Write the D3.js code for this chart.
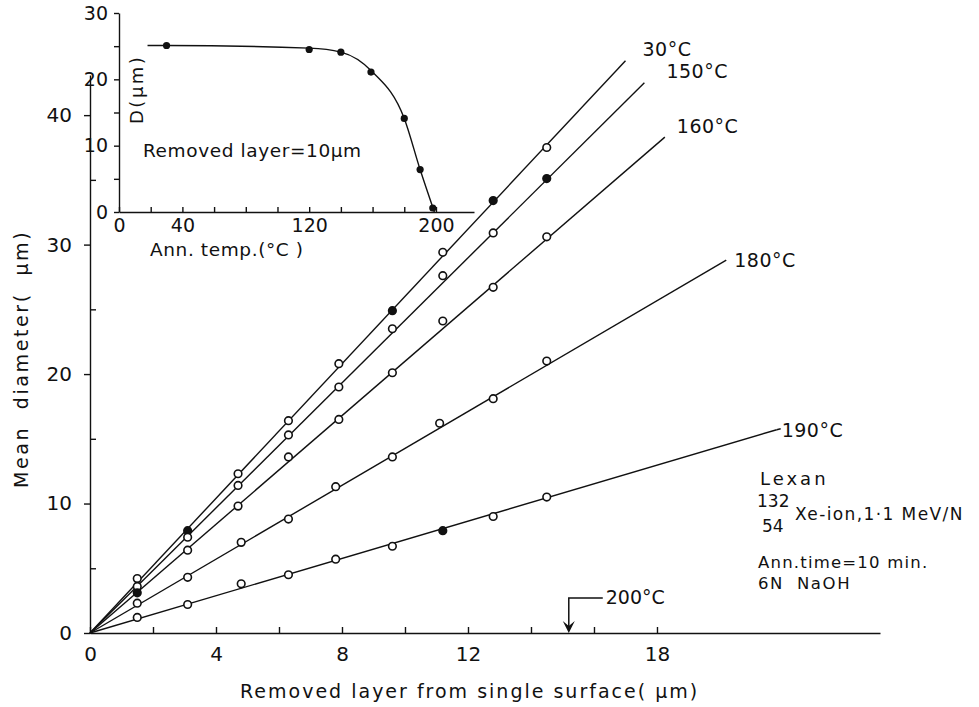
<!DOCTYPE html>
<html><head><meta charset="utf-8">
<script src="https://cdn.jsdelivr.net/npm/d3@7"></script>
<style>
body{margin:0;background:#fff;}
svg{display:block;font-family:"DejaVu Sans",sans-serif;fill:#111;}
</style></head>
<body><svg id="chart" width="979" height="707"></svg>
<script>
// Mean etched-track diameter against the layer removed, one series per annealing temperature
const seriesNames = ["30°C", "150°C", "160°C", "180°C", "190°C"];

const layer30  = [1.5, 3.1, 4.7, 6.3, 7.9, 9.6, 11.2, 12.8, 14.5];
const diam30   = [4.2, 7.9, 12.3, 16.4, 20.8, 24.9, 29.4, 33.4, 37.5];
const solid30  = [0, 1, 0, 0, 0, 1, 0, 1, 0];

const layer150 = [1.5, 3.1, 4.7, 6.3, 7.9, 9.6, 11.2, 12.8, 14.5];
const diam150  = [3.6, 7.4, 11.4, 15.3, 19.0, 23.5, 27.6, 30.9, 35.1];
const solid150 = [0, 0, 0, 0, 0, 0, 0, 0, 1];

const layer160 = [1.5, 3.1, 4.7, 6.3, 7.9, 9.6, 11.2, 12.8, 14.5];
const diam160  = [3.1, 6.4, 9.8, 13.6, 16.5, 20.1, 24.1, 26.7, 30.6];
const solid160 = [1, 0, 0, 0, 0, 0, 0, 0, 0];

const layer180 = [1.5, 3.1, 4.8, 6.3, 7.8, 9.6, 11.1, 12.8, 14.5];
const diam180  = [2.3, 4.3, 7.0, 8.8, 11.3, 13.6, 16.2, 18.1, 21.0];
const solid180 = [0, 0, 0, 0, 0, 0, 0, 0, 0];

const layer190 = [1.5, 3.1, 4.8, 6.3, 7.8, 9.6, 11.2, 12.8, 14.5];
const diam190  = [1.2, 2.2, 3.8, 4.5, 5.7, 6.7, 7.9, 9.0, 10.5];
const solid190 = [0, 0, 0, 0, 0, 0, 1, 0, 0];

// far end of each fitted line through the origin
const fitEndLayer = [17.0, 17.6, 18.25, 20.2, 21.8];
const fitEndDiam  = [44.2, 42.5, 38.3, 28.8, 15.7];

// main axes
const xTickValues = [0, 2, 4, 6, 8, 10, 12, 14, 16, 18];
const xTickLabels = [0, 4, 8, 12, 18];
const yMajorTicks = [0, 10, 20, 30, 40];
const yMinorTicks = [5, 15, 25, 35];

// layer at which the 200°C tracks vanish
const vanishLayer = 15.2;

// inset: diameter at 10 µm removed layer vs annealing temperature
const annTemp = [30, 120, 140, 159, 180, 190, 198];
const annDiam = [25.1, 24.5, 24.1, 21.1, 14.1, 6.4, 0.6];
const annCurveTemp = [18, 30, 120, 140, 160, 180, 190, 199];
const annCurveDiam = [25.1, 25.1, 24.7, 24.1, 21.1, 14.1, 6.4, 0];
const insetXTicks = [0, 20, 40, 60, 80, 100, 120, 140, 160, 180, 200];
const insetXLabels = [0, 40, 120, 200];
const insetYTicks = [0, 5, 10, 15, 20, 25, 30];
const insetYLabels = [0, 10, 20, 30];

const series = [
  {name: seriesNames[0], x: layer30,  y: diam30,  solid: solid30},
  {name: seriesNames[1], x: layer150, y: diam150, solid: solid150},
  {name: seriesNames[2], x: layer160, y: diam160, solid: solid160},
  {name: seriesNames[3], x: layer180, y: diam180, solid: solid180},
  {name: seriesNames[4], x: layer190, y: diam190, solid: solid190}
];
// label offsets from the end of each line (px)
const labelOffsets = [[17, -5], [22, -5], [12, -4], [8, 7], [5, 7]];

const svg = d3.select("#chart");
const ink = "#111";
const fs = 20;

const x = d3.scaleLinear().domain([0, 25.08]).range([90, 880]);
const y = d3.scaleLinear().domain([0, 43.1]).range([633, 75]);

// x axis, ticks pointing inward
const gx = svg.append("g").attr("transform", `translate(0,${y(0)})`)
  .call(d3.axisBottom(x).tickValues(xTickValues).tickSizeInner(-6).tickSizeOuter(0)
    .tickPadding(14).tickFormat(d => xTickLabels.includes(d) ? d : ""));
// y axis: labelled ticks outside, intermediate ticks inside
const gy = svg.append("g").attr("transform", `translate(${x(0)},0)`)
  .call(d3.axisLeft(y).tickValues(yMajorTicks).tickSizeInner(6).tickSizeOuter(0).tickPadding(12));
const gy2 = svg.append("g").attr("transform", `translate(${x(0)},0)`)
  .call(d3.axisLeft(y).tickValues(yMinorTicks).tickSizeInner(-6).tickSizeOuter(0).tickFormat(""));
[gx, gy, gy2].forEach(g => {
  g.selectAll("path,line").attr("stroke", ink).attr("stroke-width", 1.4);
  g.selectAll("text").attr("font-size", fs).attr("fill", ink).attr("font-family", "DejaVu Sans");
});
gy2.select(".domain").remove();

// axis titles
svg.append("text").attr("x", 240).attr("y", 698).attr("font-size", 19)
  .attr("letter-spacing", 2).text("Removed layer from single surface( µm)");
svg.append("text").attr("transform", "translate(28,488) rotate(-90)")
  .attr("font-size", 19).attr("letter-spacing", 2.6).attr("word-spacing", 8)
  .text("Mean diameter( µm)");

// fitted lines and measured points
series.forEach((s, i) => {
  svg.append("line")
    .attr("x1", x(0)).attr("y1", y(0))
    .attr("x2", x(fitEndLayer[i])).attr("y2", y(fitEndDiam[i]))
    .attr("stroke", ink).attr("stroke-width", 1.4);
  const pts = s.x.map((v, j) => ({lx: v, d: s.y[j], solid: s.solid[j]}));
  svg.append("g").selectAll("circle").data(pts).join("circle")
    .attr("cx", d => x(d.lx)).attr("cy", d => y(d.d)).attr("r", 3.8)
    .attr("fill", d => d.solid ? ink : "#fff")
    .attr("stroke", ink).attr("stroke-width", 1.6);
  svg.append("text")
    .attr("x", x(fitEndLayer[i]) + labelOffsets[i][0])
    .attr("y", y(fitEndDiam[i]) + labelOffsets[i][1])
    .attr("font-size", 19).attr("letter-spacing", 0.5).text(s.name);
});

// 190°C line continues into its label
svg.append("line")
  .attr("x1", x(fitEndLayer[4])).attr("y1", y(fitEndDiam[4]))
  .attr("x2", x(fitEndLayer[4]) + 4).attr("y2", y(fitEndDiam[4]) - 1)
  .attr("stroke", ink).attr("stroke-width", 1.4);

// 200°C marker: tracks fully annealed
const ax = x(vanishLayer);
svg.append("path")
  .attr("d", `M${ax + 34},${y(0) - 35} H${ax} V${y(0) - 4}`)
  .attr("fill", "none").attr("stroke", ink).attr("stroke-width", 1.5);
svg.append("path")
  .attr("d", `M${ax - 6},${y(0) - 12} L${ax},${y(0)} L${ax + 6},${y(0) - 12} L${ax},${y(0) - 7} Z`)
  .attr("fill", ink);
svg.append("text").attr("x", ax + 37).attr("y", y(0) - 29).attr("font-size", 19).text("200°C");

// irradiation / etching conditions
const note = svg.append("g").attr("font-size", 17);
note.append("text").attr("x", 760).attr("y", 485).attr("font-size", 18).attr("letter-spacing", 3).text("Lexan");
note.append("text").attr("x", 757).attr("y", 507).text("132");
note.append("text").attr("x", 762).attr("y", 532).text("54");
note.append("text").attr("x", 795).attr("y", 520).attr("letter-spacing", 1.4)
  .text("Xe-ion,1·1 MeV/N");
note.append("text").attr("x", 758).attr("y", 568).attr("font-size", 16.5)
  .attr("letter-spacing", 1.2).text("Ann.time=10 min.");
note.append("text").attr("x", 758).attr("y", 589).attr("font-size", 16.5)
  .attr("letter-spacing", 1.6).attr("word-spacing", 6).text("6N NaOH");

// inset
const ix = d3.scaleLinear().domain([0, 224]).range([119, 474]);
const iy = d3.scaleLinear().domain([0, 30]).range([212, 13]);
const inset = svg.append("g");
const igx = inset.append("g").attr("transform", `translate(0,${iy(0)})`)
  .call(d3.axisBottom(ix).tickValues(insetXTicks).tickSizeInner(-5).tickSizeOuter(0)
    .tickPadding(7).tickFormat(d => insetXLabels.includes(d) ? d : ""));
const igy = inset.append("g").attr("transform", `translate(${ix(0)},0)`)
  .call(d3.axisLeft(iy).tickValues(insetYTicks).tickSizeInner(5).tickSizeOuter(0)
    .tickPadding(6).tickFormat(d => insetYLabels.includes(d) ? d : ""));
[igx, igy].forEach(g => {
  g.selectAll("path,line").attr("stroke", ink).attr("stroke-width", 1.4);
  g.selectAll("text").attr("font-size", 19).attr("fill", ink).attr("font-family", "DejaVu Sans");
});
inset.append("path")
  .datum(annCurveTemp.map((t, i) => [t, annCurveDiam[i]]))
  .attr("d", d3.line().x(d => ix(d[0])).y(d => iy(d[1])).curve(d3.curveMonotoneX))
  .attr("fill", "none").attr("stroke", ink).attr("stroke-width", 1.4);
inset.append("g").selectAll("circle")
  .data(annTemp.map((t, i) => [t, annDiam[i]])).join("circle")
  .attr("cx", d => ix(d[0])).attr("cy", d => iy(d[1])).attr("r", 3.6).attr("fill", ink);
inset.append("text").attr("x", 143).attr("y", 157).attr("font-size", 18.5)
  .attr("letter-spacing", 0.6).text("Removed layer=10µm");
inset.append("text").attr("transform", "translate(143,124) rotate(-90)")
  .attr("font-size", 18).attr("letter-spacing", 2.5).text("D(µm)");
inset.append("text").attr("x", 150).attr("y", 256).attr("font-size", 18.5)
  .attr("letter-spacing", 0.6).text("Ann. temp.(°C )");
</script>
</body></html>
